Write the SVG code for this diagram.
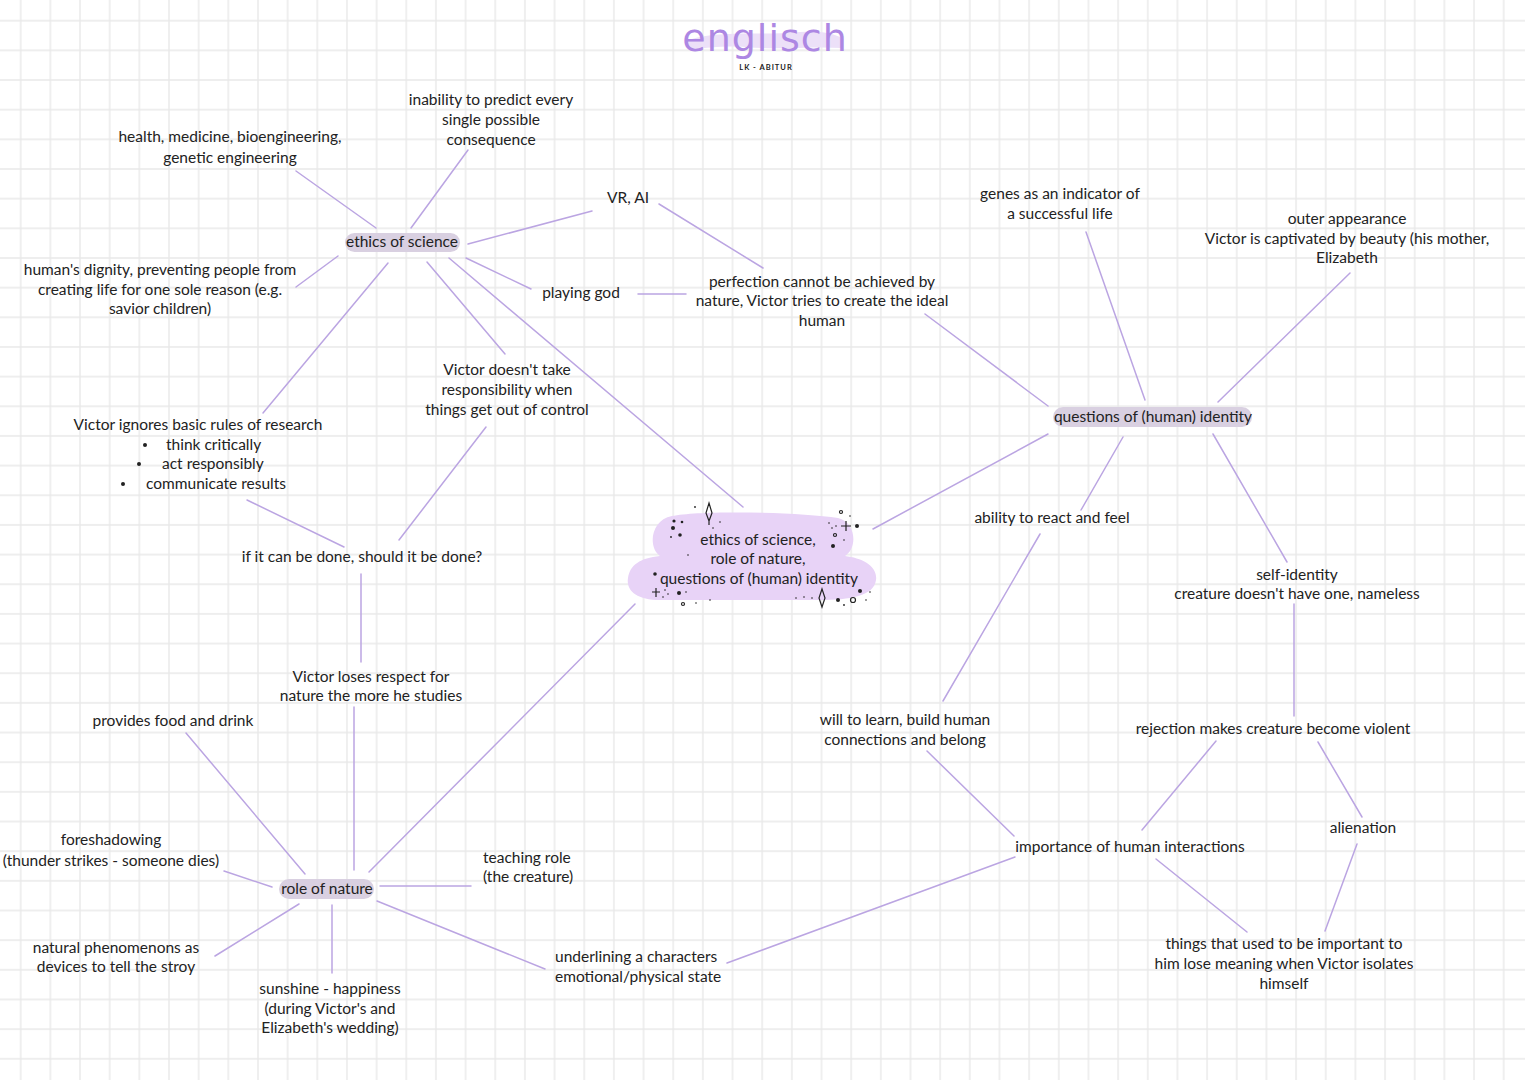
<svg xmlns="http://www.w3.org/2000/svg" width="1525" height="1080" viewBox="0 0 1525 1080">
<defs>
<pattern id="grid" patternUnits="userSpaceOnUse" x="5.87" y="5.87" width="29.66" height="29.66">
<path d="M14.83 0 V29.66 M0 14.83 H29.66" stroke="#e9e9e9" stroke-width="1.4" fill="none"/>
</pattern>
</defs>
<style>
text{font-family:"Lato","Noto Sans","DejaVu Sans",sans-serif;font-size:15.5px;fill:#222;text-anchor:middle}
.l{text-anchor:start}
.hl{fill:#d9d0e1}
#connectors line{stroke:#bba5e2;stroke-width:1.5;stroke-linecap:round}
.dot{fill:#222}
.spark{fill:none;stroke:#222;stroke-width:1.2}
</style>
<rect width="1525" height="1080" fill="#ffffff"/>
<rect width="1525" height="1080" fill="url(#grid)"/>

<g id="title">
<path d="M688 40 C720 30 760 36 800 32 C820 30 835 34 842 38 L842 48 C810 46 780 50 745 47 C720 45 700 50 688 48 Z" fill="#ece0f8"/>
<text x="765" y="51" style="font-size:38px;fill:#ad87e3;letter-spacing:1px;font-family:'DejaVu Sans',sans-serif">englisch</text>
<text x="766" y="70" style="font-size:7.5px;font-weight:bold;letter-spacing:1px">LK - ABITUR</text>
</g>

<g id="connectors">
<line x1="296" y1="171" x2="376" y2="228"/>
<line x1="468" y1="150" x2="411" y2="228"/>
<line x1="468" y1="244" x2="592" y2="211"/>
<line x1="659" y1="204" x2="763" y2="268"/>
<line x1="296" y1="287" x2="338" y2="256"/>
<line x1="466" y1="258" x2="531" y2="289"/>
<line x1="638" y1="294" x2="686" y2="294"/>
<line x1="427" y1="262" x2="505" y2="354"/>
<line x1="449" y1="258" x2="743" y2="507"/>
<line x1="388" y1="263" x2="263" y2="413"/>
<line x1="925" y1="314" x2="1048" y2="406"/>
<line x1="1086" y1="232" x2="1145" y2="400"/>
<line x1="1350" y1="273" x2="1218" y2="402"/>
<line x1="1048" y1="434" x2="873" y2="529"/>
<line x1="1123" y1="437" x2="1081" y2="510"/>
<line x1="1213" y1="434" x2="1287" y2="562"/>
<line x1="1040" y1="534" x2="943" y2="701"/>
<line x1="1294" y1="604" x2="1294" y2="716"/>
<line x1="486" y1="427" x2="399" y2="540"/>
<line x1="247" y1="500" x2="344" y2="547"/>
<line x1="361" y1="574" x2="361" y2="662"/>
<line x1="354" y1="707" x2="354" y2="870"/>
<line x1="186" y1="733" x2="305" y2="874"/>
<line x1="635" y1="604" x2="369" y2="872"/>
<line x1="224" y1="871" x2="272" y2="887"/>
<line x1="380" y1="886" x2="471" y2="886"/>
<line x1="299" y1="904" x2="215" y2="956"/>
<line x1="332" y1="905" x2="332" y2="973"/>
<line x1="377" y1="901" x2="545" y2="969"/>
<line x1="727" y1="963" x2="1015" y2="857"/>
<line x1="927" y1="751" x2="1014" y2="836"/>
<line x1="1216" y1="741" x2="1142" y2="830"/>
<line x1="1318" y1="742" x2="1362" y2="817"/>
<line x1="1357" y1="844" x2="1325" y2="931"/>
<line x1="1156" y1="859" x2="1247" y2="932"/>
</g>

<g id="center">
<path d="M672 516 C700 510 800 512 838 518 C856 522 858 548 845 556 C862 558 878 566 876 580 C874 596 850 600 820 600 L660 600 C636 600 626 590 628 578 C630 565 640 558 660 556 C648 548 650 520 672 516 Z" fill="#e8d3f7"/>
<circle class="dot" cx="674" cy="521" r="1.6"/><circle class="dot" cx="682" cy="522" r="1.3"/><circle class="dot" cx="673" cy="528" r="2"/><circle class="dot" cx="680" cy="535" r="1.8"/><circle class="dot" cx="671" cy="537" r="0.9"/>
<circle class="dot" cx="695" cy="507" r="0.9"/><circle class="dot" cx="688" cy="555" r="0.8"/><circle class="dot" cx="720" cy="522" r="0.8"/><circle class="dot" cx="713" cy="528" r="0.8"/>
<path class="spark" d="M709 503 L712 513 L709 521 L706 513 Z M709 521 V525"/>
<circle class="spark" cx="841" cy="512" r="1.5"/><circle class="dot" cx="850" cy="516" r="0.8"/>
<path class="spark" d="M846 521 V531 M841 526 H851"/><circle class="dot" cx="857" cy="526" r="2"/>
<circle class="dot" cx="829" cy="523" r="0.8"/><circle class="dot" cx="832" cy="528" r="0.8"/><circle class="dot" cx="836" cy="526" r="0.8"/>
<circle class="spark" cx="835" cy="535" r="1.5"/><circle class="dot" cx="833" cy="546" r="2"/><circle class="dot" cx="844" cy="540" r="0.8"/>
<circle class="dot" cx="655" cy="574" r="1.8"/>
<path class="spark" d="M656 588 V597 M652 592 H660"/><circle class="dot" cx="665" cy="590" r="0.8"/><circle class="dot" cx="668" cy="594" r="0.8"/><circle class="dot" cx="663" cy="597" r="0.8"/>
<circle class="dot" cx="679" cy="593" r="2"/><circle class="dot" cx="686" cy="592" r="0.8"/><circle class="spark" cx="683" cy="604" r="1.5"/><circle class="dot" cx="696" cy="603" r="0.8"/><circle class="dot" cx="710" cy="600" r="0.8"/>
<circle class="dot" cx="796" cy="598" r="0.8"/><circle class="dot" cx="804" cy="597" r="0.8"/><circle class="dot" cx="812" cy="598" r="0.8"/>
<path class="spark" d="M822 589 L825 598 L822 607 L819 598 Z"/>
<circle class="dot" cx="838" cy="600" r="2"/><circle class="dot" cx="844" cy="605" r="0.9"/><circle class="spark" cx="853" cy="600" r="2.5"/><circle class="dot" cx="860" cy="591" r="2"/><circle class="dot" cx="866" cy="600" r="0.8"/><circle class="dot" cx="870" cy="592" r="0.8"/>
<text x="758" y="545">ethics of science,</text>
<text x="758" y="564">role of nature,</text>
<text x="759" y="584">questions of (human) identity</text>
</g>

<g id="n-ethics">
<rect class="hl" x="345" y="233" width="115" height="19" rx="9.5"/>
<text x="402" y="247">ethics of science</text>
</g>
<g id="n-identity">
<rect class="hl" x="1053" y="407" width="199" height="20" rx="10"/>
<text x="1153" y="422">questions of (human) identity</text>
</g>
<g id="n-nature">
<rect class="hl" x="279" y="879" width="95" height="20" rx="10"/>
<text x="327" y="894">role of nature</text>
</g>

<g id="n-health"><text x="230" y="142">health, medicine, bioengineering,</text><text x="230" y="163">genetic engineering</text></g>
<g id="n-inability"><text x="491" y="105">inability to predict every</text><text x="491" y="125">single possible</text><text x="491" y="145">consequence</text></g>
<g id="n-vrai"><text x="628" y="203">VR, AI</text></g>
<g id="n-dignity"><text x="160" y="275">human's dignity, preventing people from</text><text x="160" y="295">creating life for one sole reason (e.g.</text><text x="160" y="314">savior children)</text></g>
<g id="n-playing"><text x="581" y="298">playing god</text></g>
<g id="n-perfection"><text x="822" y="287">perfection cannot be achieved by</text><text x="822" y="306">nature, Victor tries to create the ideal</text><text x="822" y="326">human</text></g>
<g id="n-genes"><text x="1060" y="199">genes as an indicator of</text><text x="1060" y="219">a successful life</text></g>
<g id="n-outer"><text x="1347" y="224">outer appearance</text><text x="1347" y="244">Victor is captivated by beauty (his mother,</text><text x="1347" y="263">Elizabeth</text></g>
<g id="n-responsibility"><text x="507" y="375">Victor doesn't take</text><text x="507" y="395">responsibility when</text><text x="507" y="415">things get out of control</text></g>
<g id="n-rules"><text x="198" y="430">Victor ignores basic rules of research</text>
<circle class="dot" cx="145" cy="445" r="2"/><text class="l" x="166" y="450">think critically</text>
<circle class="dot" cx="139" cy="464" r="2"/><text class="l" x="162" y="469">act responsibly</text>
<circle class="dot" cx="123" cy="484" r="2"/><text class="l" x="146" y="489">communicate results</text></g>
<g id="n-ability"><text x="1052" y="523">ability to react and feel</text></g>
<g id="n-self"><text x="1297" y="580">self-identity</text><text x="1297" y="599">creature doesn't have one, nameless</text></g>
<g id="n-ifcan"><text x="362" y="562">if it can be done, should it be done?</text></g>
<g id="n-loses"><text x="371" y="682">Victor loses respect for</text><text x="371" y="701">nature the more he studies</text></g>
<g id="n-food"><text x="173" y="726">provides food and drink</text></g>
<g id="n-will"><text x="905" y="725">will to learn, build human</text><text x="905" y="745">connections and belong</text></g>
<g id="n-rejection"><text x="1273" y="734">rejection makes creature become violent</text></g>
<g id="n-alienation"><text x="1363" y="833">alienation</text></g>
<g id="n-foreshadowing"><text x="111" y="845">foreshadowing</text><text x="111" y="866">(thunder strikes - someone dies)</text></g>
<g id="n-importance"><text x="1130" y="852">importance of human interactions</text></g>
<g id="n-teaching"><text class="l" x="483" y="863">teaching role</text><text class="l" x="483" y="882">(the creature)</text></g>
<g id="n-phenomenons"><text x="116" y="953">natural phenomenons as</text><text x="116" y="972">devices to tell the stroy</text></g>
<g id="n-things"><text x="1284" y="949">things that used to be important to</text><text x="1284" y="969">him lose meaning when Victor isolates</text><text x="1284" y="989">himself</text></g>
<g id="n-underlining"><text class="l" x="555" y="962">underlining a characters</text><text class="l" x="555" y="982">emotional/physical state</text></g>
<g id="n-sunshine"><text x="330" y="994">sunshine - happiness</text><text x="330" y="1014">(during Victor's and</text><text x="330" y="1033">Elizabeth's wedding)</text></g>
</svg>
